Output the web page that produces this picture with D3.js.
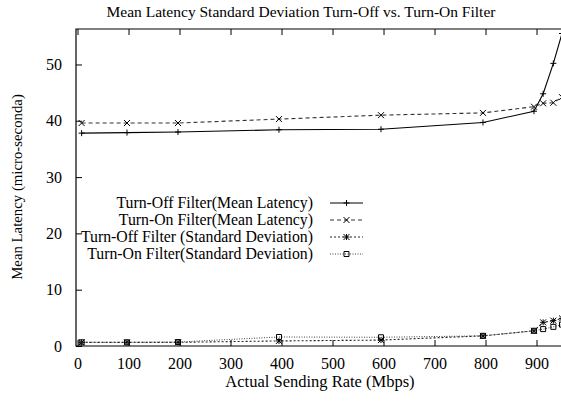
<!DOCTYPE html>
<html>
<head>
<meta charset="utf-8">
<script src="https://cdn.jsdelivr.net/npm/d3@7"></script>
<style>
  body { margin: 0; background: #fff; }
</style>
</head>
<body>
<svg id="chart_plot" width="561" height="404"></svg>
<script>
// data
const rates = [8, 97, 197, 395, 595, 795, 895, 913, 933, 950];
const offMean = [37.8, 37.9, 38.0, 38.4, 38.5, 39.7, 41.7, 44.8, 50.2, 55.5];
const onMean = [39.6, 39.6, 39.6, 40.3, 41.0, 41.4, 42.5, 43.1, 43.2, 44.2];
const offStd = [0.65, 0.65, 0.65, 0.9, 1.05, 1.8, 2.7, 4.2, 4.5, 4.9];
const onStd = [0.65, 0.65, 0.7, 1.6, 1.55, 1.8, 2.7, 3.0, 3.4, 3.8];
const xTicks = [0, 100, 200, 300, 400, 500, 600, 700, 800, 900];
const yTicks = [0, 10, 20, 30, 40, 50];
const seriesNames = [
  "Turn-Off Filter(Mean Latency)",
  "Turn-On Filter(Mean Latency)",
  "Turn-Off Filter (Standard Deviation)",
  "Turn-On Filter(Standard Deviation)"
];

const FONT = "'Liberation Serif', 'Times New Roman', Times, serif";
const svg = d3.select("svg#chart_plot");

//plot area
const area = { left: 76, right: 561, top: 29, bottom: 346 };

const xScale = d3.scaleLinear().domain([-3, 948]).range([area.left, area.right]);
const yScale = d3.scaleLinear().domain([0, 56.3]).range([area.bottom, area.top]);

svg.append("clipPath").attr("id", "clip")
  .append("rect")
  .attr("x", area.left).attr("y", area.top)
  .attr("width", area.right - area.left).attr("height", area.bottom - area.top);

//title
svg.append("text")
  .attr("x", 301).attr("y", 17)
  .attr("text-anchor", "middle")
  .style("font-size", "15.5px")
  .text("Mean Latency  Standard Deviation Turn-Off vs. Turn-On Filter");

//axes (inward ticks, mirrored on top)
const tickLen = 6;
const axisG = svg.append("g");
axisG.append("g")
  .attr("transform", `translate(0,${area.bottom})`)
  .call(d3.axisBottom(xScale).tickValues(xTicks).tickSize(-tickLen).tickPadding(12).tickFormat(d3.format("d")))
  .call(g => g.select(".domain").remove());
axisG.append("g")
  .attr("transform", `translate(0,${area.top})`)
  .call(d3.axisTop(xScale).tickValues(xTicks).tickSize(-tickLen).tickFormat(""))
  .call(g => g.select(".domain").remove());
axisG.append("g")
  .attr("transform", `translate(${area.left},0)`)
  .call(d3.axisLeft(yScale).tickValues(yTicks).tickSize(-tickLen).tickPadding(14).tickFormat(d3.format("d")))
  .call(g => g.select(".domain").remove());
axisG.selectAll("text").style("font-size", "16px");
axisG.selectAll("line").attr("stroke", "#000");

// frame (right edge is cropped in the picture)
svg.append("path")
  .attr("d", `M${area.right + 2},${area.top}H${area.left}V${area.bottom}H${area.right + 2}`)
  .attr("fill", "none").attr("stroke", "#000").attr("stroke-width", 1.2);

//axis labels
svg.append("text")
  .attr("x", 320).attr("y", 387)
  .attr("text-anchor", "middle")
  .style("font-size", "16.5px")
  .text("Actual Sending Rate (Mbps)");
svg.append("text")
  .attr("transform", "translate(22,187) rotate(-90)")
  .attr("text-anchor", "middle")
  .style("font-size", "14.8px")
  .text("Mean Latency (micro-seconda)");

//markers
const markerPath = (type, s) => {
  if (type === "plus") return `M${-s},0H${s}M0,${-s}V${s}`;
  if (type === "cross") return `M${-s},${-s}L${s},${s}M${-s},${s}L${s},${-s}`;
  if (type === "star") return `M${-s},0H${s}M0,${-s}V${s}M${-s},${-s}L${s},${s}M${-s},${s}L${s},${-s}`;
  return `M${-s},${-s}H${s}V${s}H${-s}Z`;
};

const series = [
  { values: offMean, dash: null, marker: "plus", color: "#000", width: 1.1 },
  { values: onMean, dash: "4,3", marker: "cross", color: "#333", width: 1.1 },
  { values: offStd, dash: "2,2", marker: "star", color: "#222", width: 1.1 },
  { values: onStd, dash: "1,1.5", marker: "box", color: "#444", width: 1 }
];

const lineGenerator = d3.line()
  .x((d, i) => xScale(rates[i]))
  .y(d => yScale(d));

const plot = svg.append("g").attr("clip-path", "url(#clip)");

series.forEach(s => {
  plot.append("path")
    .attr("fill", "none")
    .attr("stroke", s.color)
    .attr("stroke-width", s.width)
    .attr("stroke-dasharray", s.dash)
    .attr("d", lineGenerator(s.values));
  plot.selectAll(null)
    .data(s.values)
    .enter()
    .append("path")
    .attr("transform", (d, i) => `translate(${xScale(rates[i])},${yScale(d)})`)
    .attr("d", markerPath(s.marker, s.marker === "box" ? 2.5 : 3))
    .attr("fill", "none")
    .attr("stroke", "#000")
    .attr("stroke-width", 1);
});

//legend
const legend = svg.append("g");
seriesNames.forEach((name, i) => {
  const y = 203 + i * 17;
  const s = series[i];
  legend.append("text")
    .attr("x", 313).attr("y", y + 5)
    .attr("text-anchor", "end")
    .style("font-size", "15.8px")
    .text(name);
  legend.append("path")
    .attr("d", `M330,${y}H363`)
    .attr("stroke", s.color)
    .attr("stroke-width", s.width)
    .attr("stroke-dasharray", s.dash);
  legend.append("path")
    .attr("transform", `translate(346.5,${y})`)
    .attr("d", markerPath(s.marker, s.marker === "box" ? 2.5 : 3))
    .attr("fill", "none")
    .attr("stroke", "#000");
});

// serif everywhere, like the gnuplot original
svg.selectAll("text").style("font-family", FONT).attr("fill", "#000");
</script>
</body>
</html>
